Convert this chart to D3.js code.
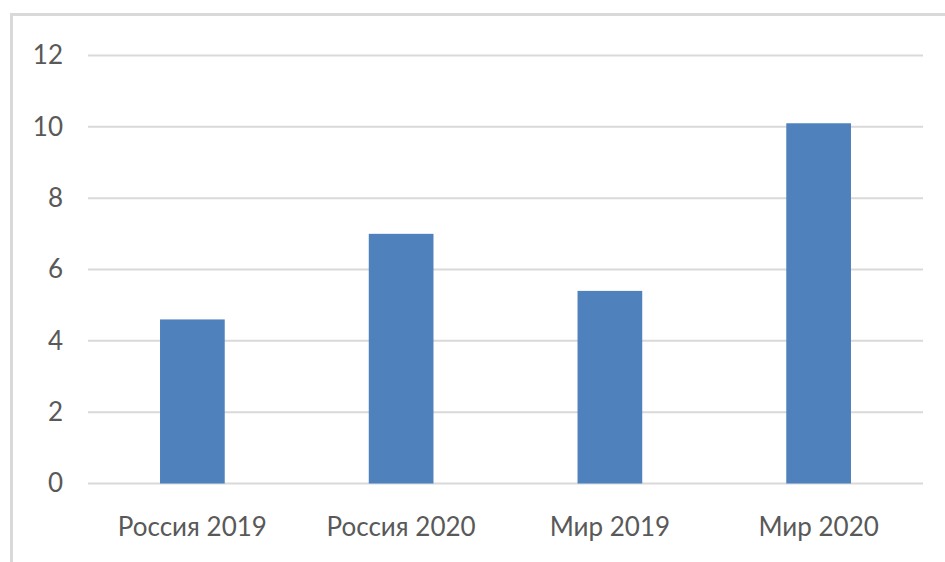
<!DOCTYPE html>
<html><head><meta charset="utf-8">
<script src="https://cdn.jsdelivr.net/npm/d3@7"></script>
<style>body{margin:0;background:#fff;} svg{display:block;}</style>
</head><body>
<script>
const categories = ["Россия 2019", "Россия 2020", "Мир 2019", "Мир 2020"];
const values = [4.6, 7.0, 5.4, 10.1];
const yTicks = [0, 2, 4, 6, 8, 10, 12];

(function () {
const W = 945, H = 562;
const svg = d3.select("body").append("svg").attr("width", W).attr("height", H);

// outer chart border (only top and left edges visible)
svg.append("rect").attr("x", 11.5).attr("y", 14.5).attr("width", 960).attr("height", 600)
  .attr("fill", "none").attr("stroke", "#d9d9d9").attr("stroke-width", 3);

const pl = 88, pr = 923, pt = 55.5, pb = 483.5;
const x = d3.scaleBand().domain(categories).range([pl, pr]).paddingInner(0.69).paddingOuter(0.345);
const y = d3.scaleLinear().domain([0, 12]).range([pb, pt]);

const font = "Lato, 'Open Sans', sans-serif";

// gridlines
svg.append("g").selectAll("line").data(yTicks).join("line")
  .attr("x1", pl).attr("x2", pr)
  .attr("y1", d => y(d)).attr("y2", d => y(d))
  .attr("stroke", "#d9d9d9").attr("stroke-width", 2);

// y axis labels
const yAxis = d3.axisLeft(y).tickValues(yTicks).tickSize(0).tickPadding(0);
const ya = svg.append("g").attr("transform", `translate(63,0)`).call(yAxis);
ya.select(".domain").remove();
ya.selectAll("text").attr("font-family", font).attr("font-size", 26).attr("fill", "#595959");

// bars
svg.append("g").selectAll("rect").data(values).join("rect")
  .attr("x", (d, i) => x(categories[i]))
  .attr("width", x.bandwidth())
  .attr("y", d => y(d))
  .attr("height", d => y(0) - y(d))
  .attr("fill", "#4f81bd");

// x axis labels
const xAxis = d3.axisBottom(x).tickSize(0).tickPadding(0);
const xa = svg.append("g").attr("transform", `translate(0,${pb})`).call(xAxis);
xa.select(".domain").remove();
xa.selectAll("text").attr("font-family", font).attr("font-size", 26).attr("fill", "#595959")
  .attr("dy", null).attr("y", 52);
})();
</script>
</body></html>
